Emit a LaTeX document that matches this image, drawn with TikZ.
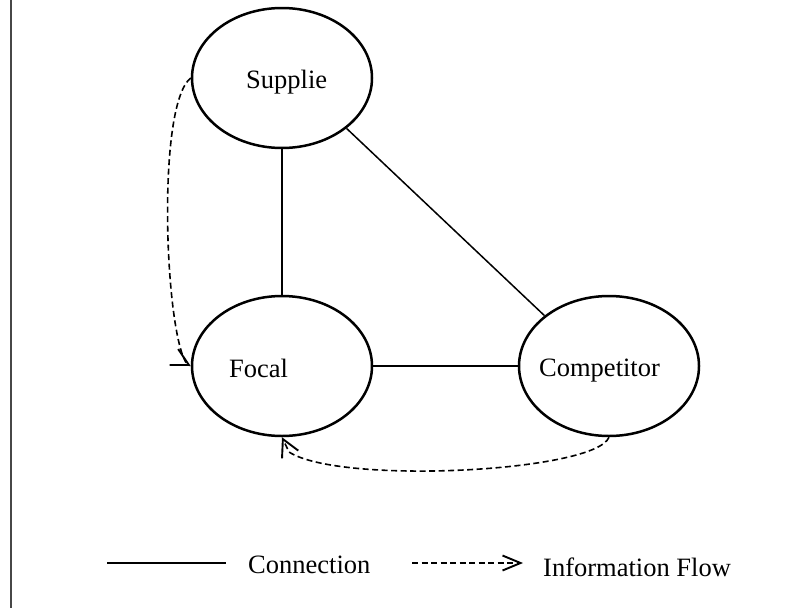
\documentclass[tikz,border=0pt]{standalone}
\usepackage{fontspec}
\setmainfont{Liberation Serif}
\usetikzlibrary{shapes.geometric,arrows.meta}
\begin{document}
\begin{tikzpicture}[x=1pt,y=-1pt,
  actor/.style={ellipse, draw, line width=2.5pt, minimum width=180pt, minimum height=140pt, inner sep=0pt},
  lbl/.style={anchor=base west, inner sep=0pt, font=\fontsize{26.5}{32}\selectfont},
  conn/.style={line width=2.3pt},
  thinconn/.style={line width=1.5pt},
  flow/.style={line width=1.6pt, dash pattern=on 6pt off 3.5pt},
  barb/.style={-{Straight Barb[length=17pt,width=18pt,line width=1.9pt]}}
]
\useasboundingbox (0,0) rectangle (811,608);
\draw[line width=2.6pt, black!72] (11,0) -- (11,608);

\node[actor] (sup) at (282,78) {};
\node[actor] (foc) at (282,366) {};
\node[actor] (comp) at (609,366) {};

\node[lbl] (tsup) at (246,88) {Supplie};
\node[lbl] (tfoc) at (229,377) {Focal};
\node[lbl] (tcomp) at (539,376) {Competitor};

\draw[conn] (sup.south) -- (foc.north);
\draw[conn] (foc.east) -- (comp.west);
\draw[thinconn] (sup.south east) -- (comp.north west);

\coordinate (f1) at (187,364);
\draw[flow,barb] (sup.west) .. controls (156,105) and (165,335) .. (f1) -- (foc.west);
\coordinate (f2) at (289,452);
\draw[flow,barb] (comp.south) .. controls (595,472) and (340,485) .. (f2) -- (foc.south);

% legend
\coordinate (l1) at (107,563);
\coordinate (l2) at (226,563);
\draw[conn] (l1) -- (l2);
\node[lbl] (tconn) at (248,573) {Connection};
\coordinate (l3) at (412,563);
\coordinate (l4) at (523,563);
\draw[flow, dash pattern=on 6pt off 3.5pt, -{Straight Barb[length=18pt,width=15pt,line width=1.9pt]}] (l3) -- (l4);
\node[lbl] (tflow) at (543,576) {Information Flow};
\end{tikzpicture}
\end{document}
